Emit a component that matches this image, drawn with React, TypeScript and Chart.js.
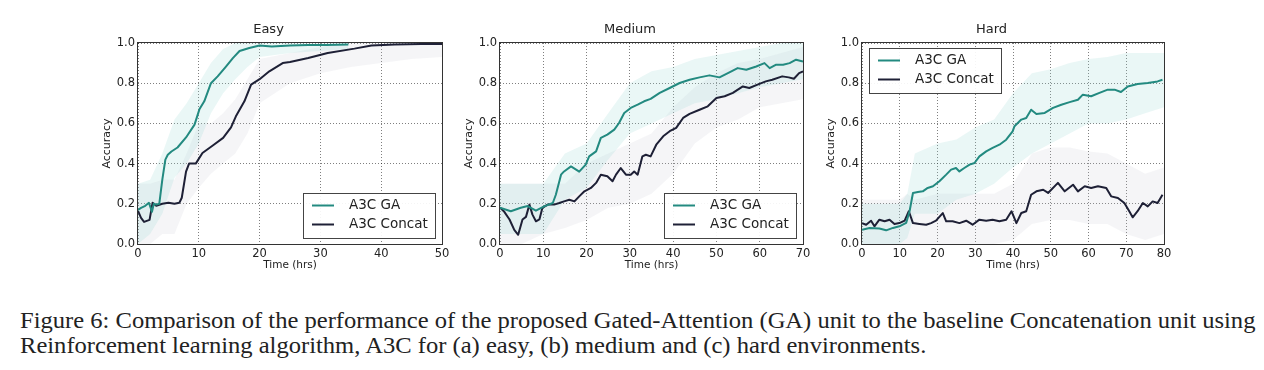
import React, { useEffect, useRef } from "react";
import { Chart, registerables } from "chart.js";

Chart.register(...registerables);

// ---------- data ----------
const TITLES = ["Easy", "Medium", "Hard"];
const X_MAX = [50, 70, 80];
const Y_TICKS = [0, 0.2, 0.4, 0.6, 0.8, 1.0];
const SERIES_LABELS = ["A3C GA", "A3C Concat"];

// Easy
const easyGaT = [0, 0.5, 1.2, 1.8, 2.3, 2.6, 3, 3.5, 4, 4.5, 4.9, 5.5, 6.5, 7.9, 9.3, 10.1, 10.9, 12, 13.1, 14.5, 15.6, 16.7, 18.3, 20, 22, 25, 28, 31, 34.6];
const easyGa = [0.17, 0.18, 0.19, 0.205, 0.16, 0.2, 0.196, 0.2, 0.32, 0.42, 0.444, 0.46, 0.48, 0.53, 0.594, 0.67, 0.71, 0.8, 0.834, 0.884, 0.925, 0.96, 0.975, 0.988, 0.982, 0.988, 0.99, 0.99, 0.992];
const easyCcT = [0, 0.5, 1, 1.9, 2.4, 3, 4, 5, 6, 6.8, 7.2, 7.9, 8.4, 9.5, 10.6, 12.3, 14, 15.3, 16.1, 17.5, 18.6, 20, 21.6, 23.8, 25, 28, 31.2, 35.6, 38.4, 42.2, 46.6, 50];
const easyCc = [0.165, 0.13, 0.11, 0.12, 0.205, 0.19, 0.2, 0.205, 0.2, 0.205, 0.23, 0.36, 0.4, 0.4, 0.453, 0.49, 0.528, 0.58, 0.635, 0.71, 0.793, 0.82, 0.859, 0.9, 0.905, 0.925, 0.95, 0.972, 0.988, 0.992, 0.995, 0.995];
const easyGaBandT = [0, 2, 4, 6, 8, 10, 12, 14, 16, 18, 20, 25, 30, 34.6];
const easyGaHi = [0.3, 0.32, 0.45, 0.62, 0.7, 0.8, 0.9, 0.97, 1.0, 1.0, 1.0, 1.0, 1.0, 1.0];
const easyGaLo = [0.0, 0.05, 0.15, 0.33, 0.4, 0.5, 0.65, 0.75, 0.82, 0.88, 0.93, 0.95, 0.96, 0.97];
const easyCcBandT = [0, 2, 4, 6, 8, 10, 12, 14, 16, 18, 20, 25, 30, 35, 40, 45, 50];
const easyCcHi = [0.3, 0.3, 0.32, 0.32, 0.45, 0.6, 0.6, 0.65, 0.72, 0.82, 0.92, 0.95, 0.98, 1.0, 1.0, 1.0, 1.0];
const easyCcLo = [0.0, 0.0, 0.05, 0.05, 0.2, 0.28, 0.35, 0.4, 0.45, 0.55, 0.7, 0.8, 0.85, 0.88, 0.9, 0.92, 0.93];

// Medium
const medGaT = [0, 2.5, 4.8, 6.4, 8.3, 10.2, 12.2, 12.9, 14.1, 14.8, 16.4, 18.3, 19.8, 20.6, 22.2, 23.3, 24.8, 26.4, 27.5, 28.7, 30.2, 31.8, 33.3, 34.8, 36.9, 39.2, 41.5, 43.8, 46.1, 48.4, 50.7, 53, 54.9, 56.9, 59.2, 61.1, 62.3, 63.8, 65.4, 66.9, 68.4, 70];
const medGa = [0.18, 0.163, 0.18, 0.189, 0.166, 0.187, 0.204, 0.245, 0.345, 0.361, 0.386, 0.36, 0.395, 0.436, 0.461, 0.528, 0.544, 0.569, 0.602, 0.652, 0.677, 0.693, 0.71, 0.722, 0.752, 0.776, 0.801, 0.817, 0.829, 0.839, 0.829, 0.854, 0.875, 0.867, 0.883, 0.9, 0.875, 0.892, 0.892, 0.9, 0.917, 0.908];
const medCcT = [0, 1, 2.2, 3.3, 4.2, 5.2, 6, 6.8, 7.5, 8.3, 9.1, 9.8, 11, 12.5, 13.7, 14.8, 16, 17.2, 18.3, 19.5, 21, 22.2, 23.3, 24.8, 26, 26.8, 27.9, 29.1, 30.2, 31, 31.8, 32.9, 33.7, 34.8, 36.1, 37.7, 39.2, 40.7, 42.3, 43.8, 46.1, 48, 50, 51.9, 53.8, 56.1, 57.6, 59.5, 61.4, 62.9, 65.2, 66.7, 67.9, 69.1, 70];
const medCc = [0.181, 0.16, 0.122, 0.07, 0.046, 0.122, 0.135, 0.196, 0.146, 0.113, 0.122, 0.18, 0.196, 0.196, 0.204, 0.212, 0.22, 0.212, 0.237, 0.262, 0.279, 0.304, 0.345, 0.337, 0.312, 0.345, 0.378, 0.345, 0.345, 0.361, 0.345, 0.436, 0.444, 0.436, 0.494, 0.536, 0.561, 0.578, 0.627, 0.647, 0.668, 0.685, 0.726, 0.735, 0.752, 0.784, 0.776, 0.793, 0.809, 0.817, 0.834, 0.829, 0.822, 0.85, 0.859];
const medBandT = [0, 5, 10, 15, 20, 25, 30, 35, 40, 45, 50, 55, 60, 65, 70];
const medGaHi = [0.3, 0.3, 0.3, 0.45, 0.5, 0.65, 0.8, 0.86, 0.88, 0.92, 0.94, 0.96, 0.98, 1.0, 1.0];
const medGaLo = [0.05, 0.05, 0.05, 0.22, 0.28, 0.42, 0.55, 0.6, 0.65, 0.7, 0.72, 0.75, 0.78, 0.8, 0.82];
const medCcHi = [0.3, 0.3, 0.3, 0.3, 0.4, 0.45, 0.5, 0.55, 0.68, 0.78, 0.85, 0.9, 0.92, 0.95, 0.98];
const medCcLo = [0.0, 0.0, 0.05, 0.08, 0.12, 0.18, 0.2, 0.25, 0.35, 0.5, 0.58, 0.62, 0.68, 0.7, 0.72];

// Hard
const hardGaT = [0, 2, 4.6, 6.4, 8.2, 9.9, 11.7, 12.6, 13.5, 14.8, 16.1, 17.4, 18.8, 20.5, 22.3, 23.6, 24.9, 25.8, 27.1, 28.5, 29.8, 31.1, 32.9, 34.6, 36.4, 38.2, 39.9, 40.4, 42.2, 43.5, 44.8, 46.2, 48.4, 50.6, 52.8, 55, 57.2, 58.5, 60.7, 62.9, 65.1, 66.9, 68.6, 70.4, 73, 75.7, 78.3, 79.6];
const hardGa = [0.071, 0.08, 0.077, 0.068, 0.08, 0.088, 0.105, 0.163, 0.254, 0.259, 0.262, 0.279, 0.287, 0.312, 0.345, 0.37, 0.378, 0.361, 0.378, 0.395, 0.403, 0.436, 0.461, 0.478, 0.494, 0.519, 0.56, 0.586, 0.619, 0.627, 0.668, 0.647, 0.652, 0.677, 0.693, 0.706, 0.718, 0.743, 0.735, 0.752, 0.768, 0.768, 0.756, 0.784, 0.796, 0.801, 0.809, 0.817];
const hardCcT = [0, 1.1, 2.4, 3.3, 4.6, 6, 7.3, 8.6, 9.9, 11.3, 12.4, 13.5, 15.2, 17, 18.3, 19.6, 21.4, 22.3, 24, 25.8, 27.6, 29.3, 31.1, 32.9, 34.6, 36.4, 38.2, 39.6, 40.9, 42.2, 43.5, 44.8, 46.2, 48, 49.3, 51.9, 53.7, 55.9, 57.2, 59, 60.7, 62.5, 64.7, 66, 67.8, 69.5, 70.8, 71.7, 73, 74.4, 75.7, 77, 78.3, 79.6];
const hardCc = [0.104, 0.096, 0.116, 0.088, 0.121, 0.113, 0.121, 0.1, 0.104, 0.116, 0.163, 0.104, 0.1, 0.096, 0.104, 0.116, 0.154, 0.113, 0.113, 0.104, 0.116, 0.096, 0.121, 0.116, 0.121, 0.113, 0.121, 0.163, 0.104, 0.154, 0.163, 0.245, 0.262, 0.27, 0.254, 0.304, 0.262, 0.295, 0.262, 0.287, 0.279, 0.287, 0.279, 0.237, 0.229, 0.204, 0.163, 0.133, 0.163, 0.204, 0.187, 0.212, 0.204, 0.245];
const hardBandT = [0, 5, 10, 12, 14, 20, 25, 30, 35, 40, 45, 50, 55, 60, 65, 70, 75, 80];
const hardGaHi = [0.2, 0.2, 0.2, 0.25, 0.45, 0.5, 0.52, 0.58, 0.62, 0.75, 0.85, 0.87, 0.9, 0.92, 0.93, 0.95, 0.95, 0.95];
const hardGaLo = [0.0, 0.0, 0.0, 0.03, 0.15, 0.15, 0.22, 0.25, 0.3, 0.38, 0.45, 0.5, 0.55, 0.6, 0.6, 0.62, 0.65, 0.68];
const hardCcHi = [0.22, 0.22, 0.22, 0.25, 0.22, 0.25, 0.25, 0.25, 0.25, 0.3, 0.45, 0.48, 0.48, 0.46, 0.45, 0.4, 0.35, 0.38];
const hardCcLo = [0.0, 0.0, 0.0, 0.0, 0.0, 0.0, 0.0, 0.0, 0.0, 0.02, 0.1, 0.12, 0.12, 0.1, 0.1, 0.05, 0.02, 0.05];

const CAPTION_1 = "Figure 6: Comparison of the performance of the proposed Gated-Attention (GA) unit to the baseline Concatenation unit using";
const CAPTION_2 = "Reinforcement learning algorithm, A3C for (a) easy, (b) medium and (c) hard environments.";

// ---------- styling ----------
const TEAL = "#238a80";
const NAVY = "#1e2036";
const TEAL_BAND = "rgba(150,215,208,0.2)";
const GRAY_BAND = "rgba(190,195,208,0.16)";
const TEXT = "#222";
const FONT = "'DejaVu Sans', sans-serif";

type PanelDef = {
  title: string;
  xMax: number;
  gaT: number[]; ga: number[];
  ccT: number[]; cc: number[];
  gaBandT: number[]; gaHi: number[]; gaLo: number[];
  ccBandT: number[]; ccHi: number[]; ccLo: number[];
  legend: "br" | "tl";
  plotLeft: number; plotRight: number;
};

const pts = (t: number[], v: number[]) => t.map((x, i) => ({ x, y: v[i] }));

const PANELS: PanelDef[] = [
  { title: TITLES[0], xMax: X_MAX[0], gaT: easyGaT, ga: easyGa, ccT: easyCcT, cc: easyCc,
    gaBandT: easyGaBandT, gaHi: easyGaHi, gaLo: easyGaLo, ccBandT: easyCcBandT, ccHi: easyCcHi, ccLo: easyCcLo,
    legend: "br", plotLeft: 138, plotRight: 442 },
  { title: TITLES[1], xMax: X_MAX[1], gaT: medGaT, ga: medGa, ccT: medCcT, cc: medCc,
    gaBandT: medBandT, gaHi: medGaHi, gaLo: medGaLo, ccBandT: medBandT, ccHi: medCcHi, ccLo: medCcLo,
    legend: "br", plotLeft: 500, plotRight: 803 },
  { title: TITLES[2], xMax: X_MAX[2], gaT: hardGaT, ga: hardGa, ccT: hardCcT, cc: hardCc,
    gaBandT: hardBandT, gaHi: hardGaHi, gaLo: hardGaLo, ccBandT: hardBandT, ccHi: hardCcHi, ccLo: hardCcLo,
    legend: "tl", plotLeft: 862, plotRight: 1164 },
];

const Y_AXIS_W = 43;
const RIGHT_PAD = 13;
const CANVAS_TOP = 15;
const CANVAS_H = 260;
const X_AXIS_H = 31;

function Panel({ def }: { def: PanelDef }) {
  const ref = useRef<HTMLCanvasElement | null>(null);
  const width = def.plotRight - def.plotLeft + Y_AXIS_W + RIGHT_PAD;

  useEffect(() => {
    const canvas = ref.current;
    if (!canvas) return;

    const framePlugin = {
      id: "frame",
      afterDatasetsDraw(chart: any) {
        const { ctx, chartArea: ca } = chart;
        ctx.save();
        ctx.strokeStyle = "#333";
        ctx.lineWidth = 1;
        ctx.strokeRect(ca.left - 0.5, ca.top - 0.5, ca.right - ca.left + 1, ca.bottom - ca.top + 1);
        ctx.restore();
      },
    };

    const legendPlugin = {
      id: "innerLegend",
      afterDraw(chart: any) {
        const { ctx, chartArea: ca } = chart;
        const w = 132, h = 45;
        const left = def.legend === "br" ? ca.right - 7 - w : ca.left + 7;
        const top = def.legend === "br" ? ca.bottom - 6 - h : ca.top + 5;
        ctx.save();
        ctx.fillStyle = "rgba(255,255,255,0.92)";
        ctx.fillRect(left, top, w, h);
        ctx.strokeStyle = "#444";
        ctx.lineWidth = 1;
        ctx.strokeRect(left + 0.5, top + 0.5, w, h);
        const rows = [
          { label: SERIES_LABELS[0], color: TEAL, y: top + 12.5 },
          { label: SERIES_LABELS[1], color: NAVY, y: top + 31.5 },
        ];
        ctx.font = `13.5px ${FONT}`;
        ctx.textBaseline = "middle";
        ctx.textAlign = "left";
        rows.forEach((r) => {
          ctx.strokeStyle = r.color;
          ctx.lineWidth = 2;
          ctx.beginPath();
          ctx.moveTo(left + 9, r.y);
          ctx.lineTo(left + 31, r.y);
          ctx.stroke();
          ctx.fillStyle = TEXT;
          ctx.fillText(r.label, left + 46, r.y);
        });
        ctx.restore();
      },
    };

    const lineDs = (label: string, data: any, color: string) => ({
      label, data, borderColor: color, backgroundColor: color, borderWidth: 2,
      pointRadius: 0, tension: 0, fill: false, order: 0, borderJoinStyle: "round" as const,
    });
    const bandDs = (data: any, color: string, fill: any) => ({
      label: "band", data, borderWidth: 0, borderColor: "rgba(0,0,0,0)", backgroundColor: color,
      pointRadius: 0, tension: 0, fill, order: 2,
    });

    const chart = new Chart(canvas, {
      type: "line",
      data: {
        datasets: [
          lineDs(SERIES_LABELS[0], pts(def.gaT, def.ga), TEAL),
          lineDs(SERIES_LABELS[1], pts(def.ccT, def.cc), NAVY),
          bandDs(pts(def.gaBandT, def.gaHi), TEAL_BAND, "+1"),
          bandDs(pts(def.gaBandT, def.gaLo), TEAL_BAND, false),
          bandDs(pts(def.ccBandT, def.ccHi), GRAY_BAND, "+1"),
          bandDs(pts(def.ccBandT, def.ccLo), GRAY_BAND, false),
        ] as any,
      },
      options: {
        animation: false,
        responsive: false,
        maintainAspectRatio: false,
        devicePixelRatio: 1,
        layout: { padding: { left: 0, right: RIGHT_PAD, top: 0, bottom: 0 } },
        plugins: {
          legend: { display: false },
          tooltip: { enabled: false },
          title: {
            display: true, text: def.title, color: TEXT,
            font: { family: FONT, size: 13, weight: "normal" as any, lineHeight: 1.2 },
            padding: { top: 7, bottom: 5.4 },
          },
        },
        scales: {
          x: {
            type: "linear", min: 0, max: def.xMax,
            afterFit: (s: any) => { s.height = X_AXIS_H; },
            ticks: { stepSize: 10, color: TEXT, font: { family: FONT, size: 11.5 }, padding: 3, maxRotation: 0,
              callback: (v: any) => String(v) },
            grid: { color: "rgba(0,0,0,0.5)", drawTicks: false },
            border: { display: false, dash: [1, 2] },
            title: { display: true, text: "Time (hrs)", color: TEXT, font: { family: FONT, size: 10.5, lineHeight: 1.2 }, padding: { top: 0, bottom: 3 } },
          },
          y: {
            type: "linear", min: 0, max: 1,
            afterFit: (s: any) => { s.width = Y_AXIS_W; },
            afterBuildTicks: (s: any) => { s.ticks = Y_TICKS.map((v) => ({ value: v })); },
            ticks: { color: TEXT, font: { family: FONT, size: 11.5 }, padding: 3,
              callback: (v: any) => Number(v).toFixed(1) },
            grid: { color: "rgba(0,0,0,0.5)", drawTicks: false },
            border: { display: false, dash: [1, 2] },
            title: { display: true, text: "Accuracy", color: TEXT, font: { family: FONT, size: 11, lineHeight: 1.2 }, padding: { top: 6, bottom: 0 } },
          },
        } as any,
      },
      plugins: [framePlugin, legendPlugin],
    });
    return () => chart.destroy();
  }, [def]);

  return (
    <canvas
      ref={ref}
      width={width}
      height={CANVAS_H}
      style={{ position: "absolute", left: def.plotLeft - Y_AXIS_W, top: CANVAS_TOP, width, height: CANVAS_H }}
    />
  );
}

export default function App() {
  return (
    <div style={{ position: "absolute", left: 0, top: 0, width: 1264, height: 370, background: "#fff", overflow: "hidden" }}>
      {PANELS.map((p) => (
        <Panel key={p.title} def={p} />
      ))}
      <div
        style={{
          position: "absolute", left: 20, top: 308, fontFamily: "'Liberation Serif', 'Times New Roman', serif",
          fontSize: 23, lineHeight: "25px", color: "#222", whiteSpace: "nowrap",
          transform: "scaleX(1.068)", transformOrigin: "0 0",
        }}
      >
        <div>{CAPTION_1}</div>
        <div>{CAPTION_2}</div>
      </div>
    </div>
  );
}
